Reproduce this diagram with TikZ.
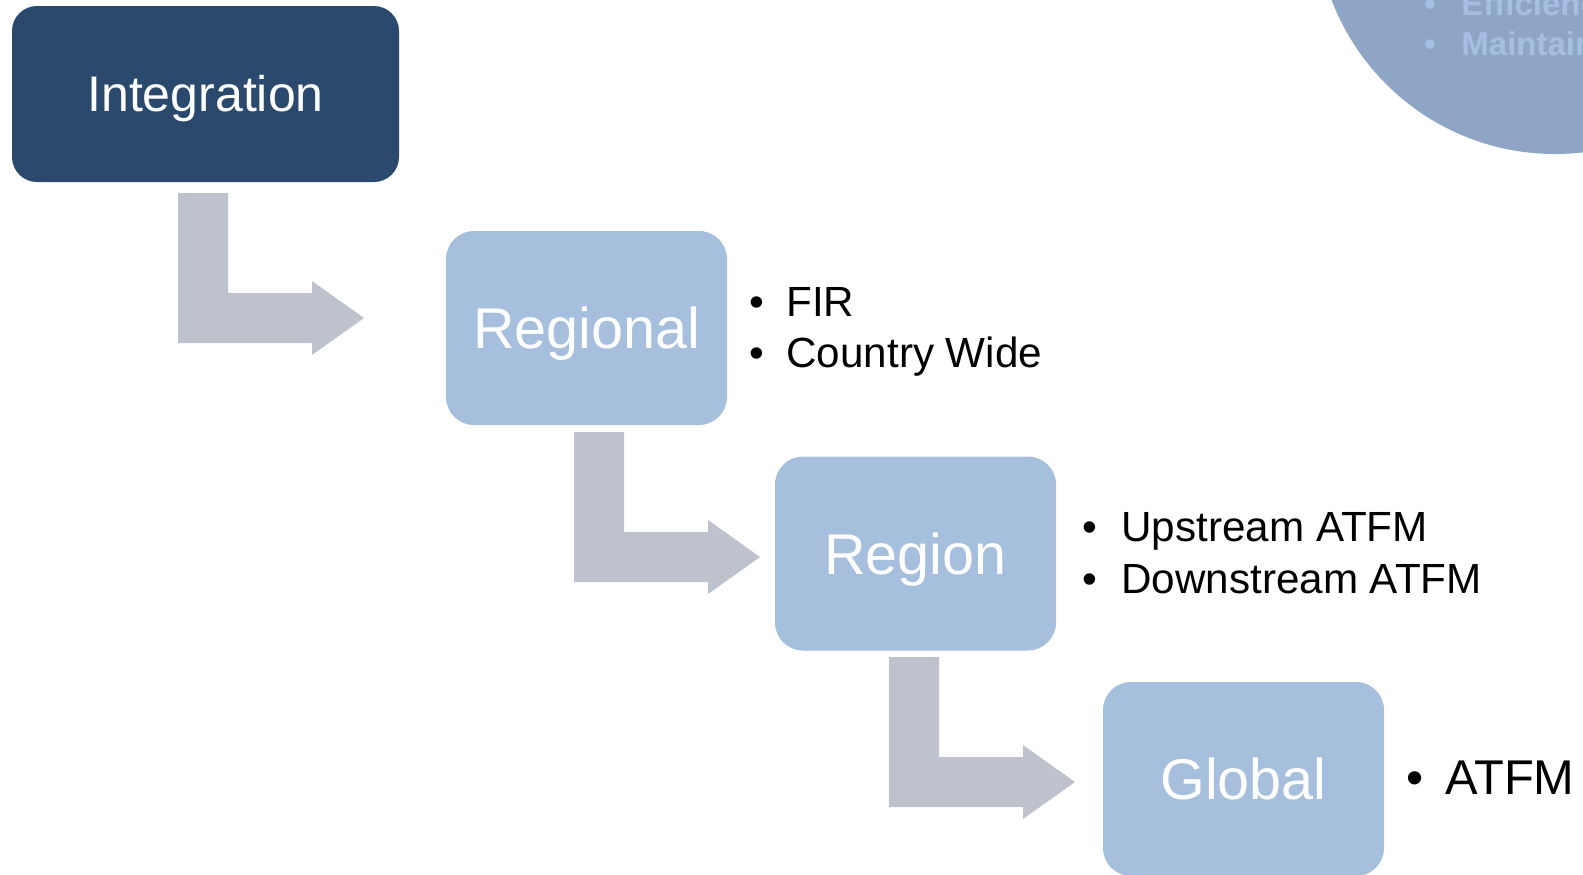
\documentclass[tikz,border=0pt]{standalone}
\usepackage{fontspec}
\setmainfont{Liberation Sans}
\definecolor{intnavy}{RGB}{42,73,109}
\definecolor{lightbox}{RGB}{166,191,221}
\definecolor{arrowgrey}{RGB}{190,194,205}
\definecolor{circlefill}{RGB}{143,165,198}
\definecolor{circletext}{RGB}{166,190,226}
\begin{document}
\begin{tikzpicture}[x=0.5pt,y=-0.5pt,
  darkbox/.style={fill=intnavy,rounded corners=12.5pt,inner sep=0pt,
    minimum width=193.5pt,minimum height=88pt,text=white,
    font=\fontsize{25pt}{30pt}\selectfont,text height=17.9pt,text depth=0pt},
  lvlbox/.style={fill=lightbox,rounded corners=14pt,inner sep=0pt,
    minimum width=140.5pt,minimum height=97pt,text=white,
    font=\fontsize{28.75pt}{34pt}\selectfont,text height=20.6pt,text depth=0pt},
  bul/.style={anchor=base,inner sep=0pt,font=\fontsize{21.1pt}{25pt}\selectfont},
  item/.style={anchor=base west,inner sep=0pt,font=\fontsize{21.1pt}{25pt}\selectfont},
  bigbul/.style={anchor=base,inner sep=0pt,font=\fontsize{24.4pt}{29pt}\selectfont},
  bigitem/.style={anchor=base west,inner sep=0pt,font=\fontsize{24.4pt}{29pt}\selectfont},
  ctext/.style={anchor=base west,inner sep=0pt,text=circletext,font=\fontsize{16.5pt}{19pt}\selectfont\bfseries},
  cbul/.style={anchor=base,inner sep=0pt,text=circletext,font=\fontsize{16.5pt}{19pt}\selectfont\bfseries},
  bentarrow/.pic={\fill[arrowgrey] (0,0) -- (50,0) -- (50,100) -- (134,100) -- (134,88)
     -- (186,125) -- (134,162) -- (134,150) -- (0,150) -- cycle;}
]
\useasboundingbox (0,0) rectangle (1583,874);
\begin{scope}
\clip (0,0) rectangle (1583,874);
\fill[circlefill] (1555,-85) circle [radius=119.5pt];
\node[cbul] (cb1) at (1430,15) {•};
\node[ctext] (ct1) at (1461,15) {Efficiency};
\node[cbul] (cb2) at (1430,55) {•};
\node[ctext] (ct2) at (1461,55) {Maintain};
\node[lvlbox] (global) at (1243.5,779) {Global};
\end{scope}

\node[darkbox] (integ) at (205.5,94) {Integration};
\node[lvlbox] (regional) at (586.5,328) {Regional};
\node[lvlbox] (region) at (915.5,553.5) {Region};

\pic at (178,193) {bentarrow};
\pic at (574,432) {bentarrow};
\pic at (889,657) {bentarrow};

\node[bul] (b1) at (757,316) {•};
\node[item] (fir) at (786,316) {FIR};
\node[bul] (b2) at (757,367) {•};
\node[item] (cw) at (786,367) {Country Wide};

\node[bul] (b3) at (1090,541) {•};
\node[item] (up) at (1121,541) {Upstream ATFM};
\node[bul] (b4) at (1090,593) {•};
\node[item] (down) at (1121,593) {Downstream ATFM};

\node[bigbul] (b5) at (1415,794) {•};
\node[bigitem] (atfm) at (1445,794) {ATFM};
\end{tikzpicture}
\end{document}
